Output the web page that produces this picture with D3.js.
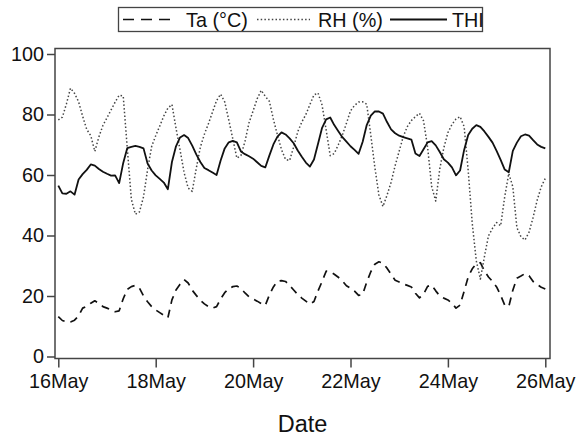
<!DOCTYPE html>
<html>
<head>
<meta charset="utf-8">
<script src="https://cdnjs.cloudflare.com/ajax/libs/d3/7.8.5/d3.min.js"></script>
<style>
    body { margin: 0; background: #fff; }
    svg text { font-family: "Liberation Sans", Arial, sans-serif; fill: #111; }
</style>
</head>
<body>
<div class="container"></div>
<script>
// readings every 2 hours, 16 May 00:00 to 26 May 00:00
var startDate = new Date(2017, 4, 16, 0, 0);
var stepHours = 2;
var tickDays = [16, 18, 20, 22, 24, 26];
var yTicks = [0, 20, 40, 60, 80, 100];
var seriesNames = ['Ta (\u00B0C)', 'RH (%)', 'THI'];

var taValues = [
    13.2, 11.9, 11.4, 11.4, 12.0, 13.4, 16.0, 16.6, 17.6, 18.4, 17.6, 16.5,
    16.0, 15.4, 14.8, 15.1, 19.1, 22.2, 23.1, 23.5, 22.6, 20.0, 18.1, 16.5,
    15.4, 14.5, 13.6, 12.8, 18.7, 22.0, 23.9, 25.4, 24.3, 21.9, 20.2, 18.6,
    17.4, 16.5, 16.0, 16.5, 19.0, 21.1, 22.4, 23.1, 23.3, 22.5, 21.0, 19.7,
    19.0, 18.3, 17.5, 16.9, 20.3, 23.0, 24.9, 25.1, 24.8, 23.5, 22.0, 20.5,
    19.3, 18.3, 17.3, 18.2, 21.7, 24.8, 28.2, 28.0, 27.2, 26.2, 25.0, 23.4,
    22.6, 21.6, 20.2, 20.5, 24.6, 28.0, 30.5, 31.3, 30.8, 29.2, 27.2, 25.2,
    24.6, 24.0, 23.5, 23.0, 20.9, 19.4, 20.6, 23.2, 23.6, 21.7, 20.0, 19.3,
    18.7, 17.6, 16.0, 17.0, 21.6, 26.3, 29.0, 30.7, 31.0, 28.3, 26.3, 24.8,
    23.0, 20.2, 17.0, 16.5, 21.9, 25.9, 26.6, 27.4, 26.7, 24.8, 23.8, 22.9,
    22.3
];

var rhValues = [
    78.2, 79.1, 83.5, 88.7, 87.0, 84.2, 79.4, 75.1, 73.0, 67.8, 72.6, 76.4,
    78.9, 81.5, 84.1, 86.4, 86.1, 68.8, 52.0, 47.0, 47.8, 52.8, 61.8, 69.4,
    73.0, 76.2, 79.5, 82.1, 83.3, 75.5, 68.3, 60.8, 55.7, 54.6, 62.2, 69.2,
    73.5, 77.0, 80.8, 84.6, 86.7, 84.2, 78.2, 71.9, 65.6, 66.4, 71.1, 77.3,
    81.2, 85.2, 88.0, 86.0, 84.4, 78.4, 73.2, 68.4, 65.1, 64.8, 69.3, 74.3,
    77.5, 80.0, 83.3, 86.5, 87.1, 83.1, 74.9, 66.4, 67.1, 70.0, 73.2, 77.1,
    81.2, 83.0, 84.1, 84.2, 83.4, 73.2, 62.5, 53.4, 49.6, 53.3, 57.6, 63.1,
    67.9, 72.7, 76.0, 78.0, 79.3, 80.4, 77.9, 69.2, 56.2, 51.4, 62.0, 69.0,
    74.0, 76.7, 78.5, 79.3, 76.0, 61.5, 44.0, 31.6, 25.6, 33.0, 39.9, 42.4,
    44.3, 43.2, 52.8, 60.5, 56.1, 42.6, 39.6, 38.5, 41.1, 46.0, 51.7, 56.1,
    58.9
];

var thiValues = [
    56.5, 53.9, 53.8, 54.6, 53.5, 58.5, 60.3, 61.7, 63.5, 63.1, 62.0, 61.1,
    60.4, 59.8, 59.9, 57.3, 64.0, 68.9, 69.3, 69.6, 69.3, 68.8, 63.8, 61.5,
    59.9, 58.7, 57.5, 55.3, 64.3, 69.5, 72.4, 73.2, 72.2, 69.7, 66.8, 64.3,
    62.3, 61.6, 60.8, 60.0, 64.8, 68.8, 70.8, 71.3, 70.8, 67.8, 66.9, 66.2,
    65.4, 64.2, 63.0, 62.5, 66.4, 70.1, 72.7, 74.1, 73.4, 72.1, 70.5, 68.1,
    66.0, 64.1, 62.8, 65.1, 70.3, 75.6, 78.4, 79.0, 76.5, 74.5, 72.5, 71.0,
    69.5, 68.3, 67.0, 71.0, 76.5, 79.6, 81.0, 81.0, 80.3, 77.5, 75.1, 73.8,
    73.0, 72.5, 72.1, 71.7, 67.1, 66.3, 68.5, 70.8, 71.2, 69.8, 67.6, 65.2,
    64.1, 62.5, 59.9, 61.5, 68.3, 73.2, 75.3, 76.5, 75.9, 74.4, 72.6, 70.7,
    68.0, 65.0, 61.8, 60.9, 68.0, 70.7, 72.8, 73.4, 73.0, 71.5, 70.1, 69.3,
    68.8
];

var WIDTH = 576, HEIGHT = 435;
var box = {left: 55, right: 550, top: 48.5, bottom: 358.5};
var FONT = '"Liberation Sans", Arial, sans-serif';

var timeOf = function (i) {
    return d3.timeHour.offset(startDate, i * stepHours);
};

var svg = d3.select('.container').append('svg')
    .attr('width', WIDTH)
    .attr('height', HEIGHT);

var xScale = d3.scaleTime()
    .domain([startDate, new Date(2017, 4, 26, 0, 0)])
    .range([box.left + 3.3, box.right - 4.7]);
var yScale = d3.scaleLinear()
    .domain([0, 100])
    .range([box.bottom - 2, box.top + 5.5]);

var makeLine = function () {
    return d3.line()
        .x(function (d, i) { return xScale(timeOf(i)); })
        .y(function (d) { return yScale(d); });
};

// series
var styles = [
    {values: taValues, stroke: '#111', width: 1.7, dash: '8,6'},
    {values: rhValues, stroke: '#444', width: 1.5, dash: '1.5,2.2'},
    {values: thiValues, stroke: '#111', width: 1.8, dash: null}
];

var plot = svg.append('g').classed('lines', true);
styles.forEach(function (s) {
    plot.append('path')
        .datum(s.values)
        .attr('d', makeLine())
        .attr('fill', 'none')
        .attr('stroke', s.stroke)
        .attr('stroke-width', s.width)
        .attr('stroke-dasharray', s.dash)
        .attr('stroke-linejoin', 'round');
});

// frame
svg.append('rect')
    .attr('x', box.left)
    .attr('y', box.top)
    .attr('width', box.right - box.left)
    .attr('height', box.bottom - box.top)
    .attr('fill', 'none')
    .attr('stroke', '#444')
    .attr('stroke-width', 1.5);

// axes
var xAxis = d3.axisBottom(xScale)
    .tickValues(tickDays.map(function (d) { return new Date(2017, 4, d); }))
    .tickFormat(d3.timeFormat('%d%b'))
    .tickSizeOuter(0)
    .tickSize(9)
    .tickPadding(6);
var gx = svg.append('g')
    .attr('transform', 'translate(0,' + box.bottom + ')')
    .call(xAxis);

var yAxis = d3.axisLeft(yScale)
    .tickValues(yTicks)
    .tickSizeOuter(0)
    .tickSize(8)
    .tickPadding(3);
var gy = svg.append('g')
    .attr('transform', 'translate(' + box.left + ',0)')
    .call(yAxis);

[gx, gy].forEach(function (g) {
    g.select('.domain').remove();
    g.selectAll('.tick line').attr('stroke', '#444').attr('stroke-width', 1.5);
    g.selectAll('.tick text')
        .style('font-size', '19.8px')
        .style('font-family', FONT)
        .style('fill', '#111');
});

svg.append('text')
    .attr('x', (box.left + box.right) / 2)
    .attr('y', 431.5)
    .attr('text-anchor', 'middle')
    .style('font-size', '23.5px')
    .text('Date');

// legend
var legend = svg.append('g');
legend.append('rect')
    .attr('x', 118.5)
    .attr('y', 7.5)
    .attr('width', 364)
    .attr('height', 24)
    .attr('fill', 'none')
    .attr('stroke', '#444')
    .attr('stroke-width', 1.3);

var legendItems = [
    {x1: 123, x2: 172, tx: 186},
    {x1: 257, x2: 310, tx: 318},
    {x1: 390, x2: 447, tx: 452}
];
legendItems.forEach(function (item, i) {
    legend.append('line')
        .attr('x1', item.x1).attr('x2', item.x2)
        .attr('y1', 19.5).attr('y2', 19.5)
        .attr('stroke', styles[i].stroke)
        .attr('stroke-width', styles[i].width)
        .attr('stroke-dasharray', i === 0 ? '11,7' : styles[i].dash);
    legend.append('text')
        .attr('x', item.tx)
        .attr('y', 26.5)
        .style('font-size', '19.8px')
        .text(seriesNames[i]);
});
</script>
</body>
</html>
